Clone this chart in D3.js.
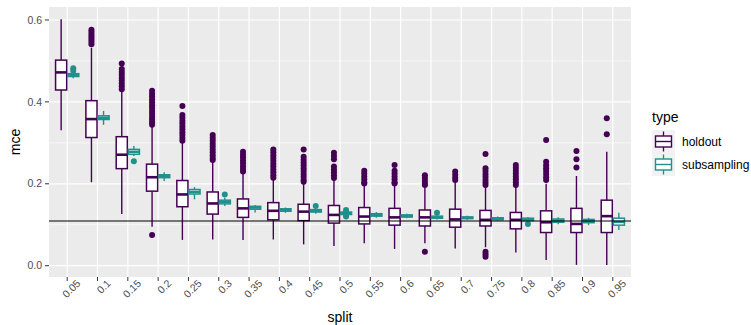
<!DOCTYPE html>
<html>
<head>
<meta charset="utf-8">
<script src="https://cdn.jsdelivr.net/npm/d3@7"></script>
<style>
  html, body { margin: 0; padding: 0; background: #fff; }
  svg { display: block; font-family: "Liberation Sans", Arial, Helvetica, sans-serif; }
</style>
</head>
<body>
<div id="chart"></div>
<script>
// ---------------------------------------------------------------------------
// mce by split, boxplots dodged by type (holdout vs subsampling)
// ---------------------------------------------------------------------------

const splits = ['0.05', '0.1', '0.15', '0.2', '0.25', '0.3', '0.35', '0.4', '0.45', '0.5',
  '0.55', '0.6', '0.65', '0.7', '0.75', '0.8', '0.85', '0.9', '0.95'];
const types = ['holdout', 'subsampling'];
const yTicks = [0, 0.2, 0.4, 0.6];
const refLine = 0.109;

// holdout
const holdoutLow = [0.331, 0.204, 0.126, 0.095, 0.063, 0.064, 0.063, 0.064, 0.052, 0.048,
  0.055, 0.041, 0.055, 0.042, 0.045, 0.032, 0.014, 0.002, 0.002];
const holdoutQ1 = [0.429, 0.313, 0.237, 0.182, 0.144, 0.126, 0.118, 0.112, 0.110, 0.104,
  0.102, 0.099, 0.097, 0.094, 0.097, 0.090, 0.081, 0.081, 0.081];
const holdoutMed = [0.472, 0.358, 0.271, 0.216, 0.174, 0.152, 0.140, 0.134, 0.132, 0.124,
  0.120, 0.118, 0.118, 0.113, 0.112, 0.112, 0.106, 0.102, 0.121];
const holdoutQ3 = [0.502, 0.403, 0.315, 0.248, 0.208, 0.180, 0.163, 0.154, 0.150, 0.147,
  0.142, 0.140, 0.136, 0.138, 0.135, 0.130, 0.134, 0.140, 0.160];
const holdoutHigh = [0.602, 0.532, 0.425, 0.340, 0.300, 0.255, 0.228, 0.212, 0.203, 0.210,
  0.198, 0.198, 0.195, 0.205, 0.195, 0.195, 0.200, 0.219, 0.278];
const holdoutOut = [
  [],
  [0.576, 0.571, 0.566, 0.561, 0.556, 0.551, 0.546, 0.541],
  [0.494, 0.480, 0.473, 0.466, 0.459, 0.452, 0.445, 0.438, 0.431],
  [0.427, 0.420, 0.413, 0.406, 0.399, 0.392, 0.385, 0.378, 0.371, 0.364, 0.357, 0.350, 0.344, 0.075],
  [0.390, 0.368, 0.361, 0.354, 0.347, 0.340, 0.333, 0.326, 0.319, 0.312, 0.305],
  [0.319, 0.312, 0.305, 0.298, 0.291, 0.284, 0.277, 0.270, 0.263, 0.258],
  [0.278, 0.271, 0.264, 0.257, 0.250, 0.243, 0.236, 0.230],
  [0.284, 0.277, 0.270, 0.263, 0.256, 0.249, 0.242, 0.235, 0.228, 0.221, 0.215],
  [0.284, 0.266, 0.259, 0.252, 0.245, 0.238, 0.231, 0.224, 0.217, 0.210, 0.205],
  [0.276, 0.268, 0.260, 0.242, 0.235, 0.228, 0.221, 0.214],
  [0.232, 0.225, 0.218, 0.211, 0.204, 0.201],
  [0.246, 0.232, 0.225, 0.218, 0.211, 0.204, 0.201],
  [0.221, 0.214, 0.207, 0.200, 0.197, 0.034],
  [0.230, 0.222, 0.215, 0.209],
  [0.273, 0.238, 0.231, 0.224, 0.217, 0.210, 0.203, 0.197, 0.034, 0.028, 0.022],
  [0.246, 0.239, 0.232, 0.225, 0.218, 0.211, 0.204, 0.197],
  [0.307, 0.254, 0.245, 0.238, 0.231, 0.224, 0.216, 0.209],
  [0.280, 0.260, 0.240],
  [0.360, 0.321],
];

// subsampling
const subLow = [0.458, 0.344, 0.268, 0.207, 0.162, 0.146, 0.130, 0.129, 0.127, 0.121,
  0.117, 0.116, 0.113, 0.112, 0.110, 0.108, 0.101, 0.099, 0.087];
const subQ1 = [0.462, 0.357, 0.272, 0.215, 0.175, 0.151, 0.138, 0.133, 0.131, 0.125,
  0.121, 0.119, 0.116, 0.115, 0.112, 0.110, 0.106, 0.105, 0.099];
const subMed = [0.466, 0.361, 0.278, 0.219, 0.180, 0.156, 0.142, 0.136, 0.134, 0.128,
  0.124, 0.121, 0.118, 0.117, 0.115, 0.113, 0.110, 0.109, 0.107];
const subQ3 = [0.469, 0.366, 0.284, 0.222, 0.186, 0.160, 0.145, 0.139, 0.137, 0.131,
  0.127, 0.124, 0.121, 0.119, 0.117, 0.116, 0.114, 0.113, 0.116];
const subHigh = [0.474, 0.378, 0.292, 0.228, 0.192, 0.166, 0.148, 0.142, 0.140, 0.134,
  0.131, 0.127, 0.124, 0.122, 0.120, 0.118, 0.118, 0.117, 0.129];
const subOut = [
  [0.482, 0.476], [], [0.255], [], [], [0.174], [], [], [0.146],
  [0.136, 0.133, 0.130, 0.122, 0.120],
  [], [], [0.129], [], [], [0.102], [], [], [],
];

const colors = { holdout: '#440154', subsampling: '#21908C' };

// build box records
const boxes = [];
splits.forEach((s, i) => {
  boxes.push({ split: s, type: 'holdout', low: holdoutLow[i], q1: holdoutQ1[i], med: holdoutMed[i],
    q3: holdoutQ3[i], high: holdoutHigh[i], out: holdoutOut[i] });
  boxes.push({ split: s, type: 'subsampling', low: subLow[i], q1: subQ1[i], med: subMed[i],
    q3: subQ3[i], high: subHigh[i], out: subOut[i] });
});

const width = 751, height = 325;
const margin = { top: 7, right: 120, bottom: 48, left: 49 };
const innerW = width - margin.left - margin.right;   // 582
const innerH = height - margin.top - margin.bottom;  // 270

const svg = d3.select('#chart').append('svg')
  .attr('width', width).attr('height', height);

const x = d3.scaleBand().domain(splits).range([0, innerW]).paddingInner(0).paddingOuter(0.1);
const step = x.step();
const xt = d3.scaleBand().domain(types)
  .range([step * 0.5 - step * 0.383, step * 0.5 + step * 0.383]).paddingInner(0.08);
const y = d3.scaleLinear().domain([-0.0276, 0.6317]).range([innerH, 0]);

const g = svg.append('g').attr('transform', `translate(${margin.left},${margin.top})`);

// panel background + grid
g.append('rect').attr('width', innerW).attr('height', innerH).attr('fill', '#EBEBEB');
const minor = [0.1, 0.3, 0.5];
g.selectAll('.minor').data(minor).join('line')
  .attr('x1', 0).attr('x2', innerW)
  .attr('y1', (d) => y(d)).attr('y2', (d) => y(d))
  .attr('stroke', '#fff').attr('stroke-width', 0.6);
g.selectAll('.ymaj').data(yTicks).join('line')
  .attr('x1', 0).attr('x2', innerW)
  .attr('y1', (d) => y(d)).attr('y2', (d) => y(d))
  .attr('stroke', '#fff').attr('stroke-width', 1.2);
g.selectAll('.xmaj').data(splits).join('line')
  .attr('x1', (d) => x(d) + step / 2).attr('x2', (d) => x(d) + step / 2)
  .attr('y1', 0).attr('y2', innerH)
  .attr('stroke', '#fff').attr('stroke-width', 1.2);

// boxplots
const bw = xt.bandwidth();
const bg = g.selectAll('.box').data(boxes).join('g')
  .attr('transform', (d) => `translate(${x(d.split) + xt(d.type)},0)`);

bg.append('line')
  .attr('x1', bw / 2).attr('x2', bw / 2)
  .attr('y1', (d) => y(d.high)).attr('y2', (d) => y(d.q3))
  .attr('stroke', (d) => colors[d.type]).attr('stroke-width', 1.4);
bg.append('line')
  .attr('x1', bw / 2).attr('x2', bw / 2)
  .attr('y1', (d) => y(d.q1)).attr('y2', (d) => y(d.low))
  .attr('stroke', (d) => colors[d.type]).attr('stroke-width', 1.4);
bg.append('rect')
  .attr('x', 0).attr('width', bw)
  .attr('y', (d) => y(d.q3)).attr('height', (d) => Math.max(0.1, y(d.q1) - y(d.q3)))
  .attr('fill', '#fff').attr('stroke', (d) => colors[d.type]).attr('stroke-width', 1.5);
bg.append('line')
  .attr('x1', 0).attr('x2', bw)
  .attr('y1', (d) => y(d.med)).attr('y2', (d) => y(d.med))
  .attr('stroke', (d) => colors[d.type]).attr('stroke-width', 2.6);
bg.selectAll('circle').data((d) => d.out.map((v) => ({ v, type: d.type }))).join('circle')
  .attr('cx', bw / 2).attr('cy', (d) => y(d.v)).attr('r', 3)
  .attr('fill', (d) => colors[d.type]);

// reference line
g.append('line').attr('x1', 0).attr('x2', innerW)
  .attr('y1', y(refLine)).attr('y2', y(refLine))
  .attr('stroke', '#000').attr('stroke-width', 1.1);

// y axis
const ya = g.append('g');
ya.selectAll('line').data(yTicks).join('line')
  .attr('x1', -4).attr('x2', 0).attr('y1', (d) => y(d)).attr('y2', (d) => y(d))
  .attr('stroke', '#333').attr('stroke-width', 1);
ya.selectAll('text').data(yTicks).join('text')
  .attr('x', -7).attr('y', (d) => y(d)).attr('dy', '0.35em')
  .attr('text-anchor', 'end').attr('fill', '#4D4D4D').style('font-size', '10.5px')
  .text(d3.format('.1f'));

// x axis
const xa = g.append('g').attr('transform', `translate(0,${innerH})`);
xa.selectAll('line').data(splits).join('line')
  .attr('x1', (d) => x(d) + step / 2).attr('x2', (d) => x(d) + step / 2)
  .attr('y1', 0).attr('y2', 4).attr('stroke', '#333').attr('stroke-width', 1);
xa.selectAll('text').data(splits).join('text')
  .attr('text-anchor', 'end').attr('fill', '#4D4D4D').style('font-size', '10.5px')
  .attr('transform', (d) => `translate(${x(d) + step / 2 + 14},${7}) rotate(-45)`)
  .text((d) => d);

// axis titles
svg.append('text').attr('x', margin.left + innerW / 2).attr('y', 322)
  .attr('text-anchor', 'middle').style('font-size', '14px').attr('fill', '#000').text('split');
svg.append('text').attr('transform', `translate(20,${margin.top + innerH / 2}) rotate(-90)`)
  .attr('text-anchor', 'middle').style('font-size', '14px').attr('fill', '#000').text('mce');

// legend
const lg = svg.append('g').attr('transform', 'translate(652,0)');
lg.append('text').attr('x', 0).attr('y', 122).style('font-size', '14px').text('type');
types.forEach((t, i) => {
  const ky = 130 + i * 23;
  const k = lg.append('g').attr('transform', `translate(0,${ky})`);
  k.append('rect').attr('width', 23).attr('height', 23).attr('fill', '#F2F2F2');
  k.append('line').attr('x1', 11.5).attr('x2', 11.5).attr('y1', 1.5).attr('y2', 21.5)
    .attr('stroke', colors[t]).attr('stroke-width', 1.3);
  k.append('rect').attr('x', 3.5).attr('y', 6).attr('width', 16).attr('height', 11)
    .attr('fill', '#fff').attr('stroke', colors[t]).attr('stroke-width', 1.4);
  k.append('line').attr('x1', 3.5).attr('x2', 19.5).attr('y1', 11.5).attr('y2', 11.5)
    .attr('stroke', colors[t]).attr('stroke-width', 1.4);
  lg.append('text').attr('x', 30).attr('y', ky + 11.5).attr('dy', '0.35em')
    .style('font-size', '12px').text(t);
});
</script>
</body>
</html>
